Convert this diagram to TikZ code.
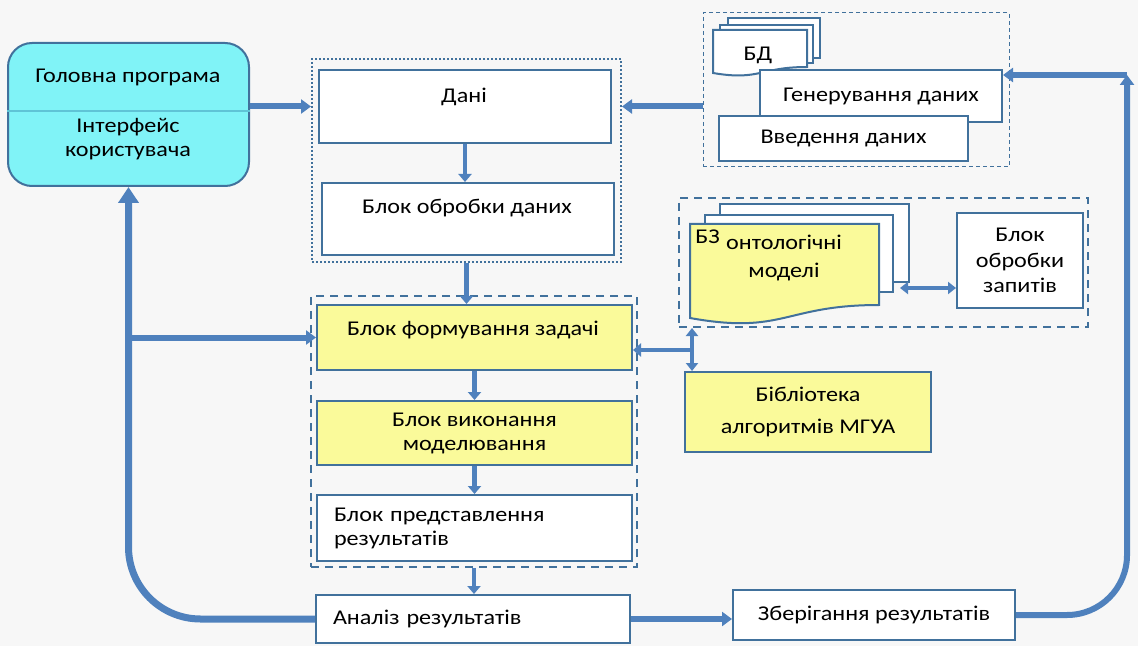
\documentclass[tikz,border=0pt]{standalone}
\usepackage{fontspec}
\setmainfont[FakeStretch=1.15]{Carlito}
\usetikzlibrary{arrows.meta}
\definecolor{edgeblue}{HTML}{41719C}
\definecolor{arrowblue}{HTML}{4F81BD}
\definecolor{aqua}{HTML}{80F3F7}
\definecolor{aquaedge}{HTML}{5FC4D6}
\definecolor{paleyellow}{HTML}{FAFA9A}
\definecolor{bggray}{HTML}{F7F7F7}

\begin{document}
\begin{tikzpicture}
[
x=0.5pt, y=-0.5pt,
every node/.style={font=\fontsize{10.5}{12}\selectfont, inner sep=0pt},
block/.style 2 args={draw=edgeblue, line width=1pt, fill=white, minimum width=#1*0.5pt, minimum height=#2*0.5pt, align=center},
yellowblock/.style 2 args={block={#1}{#2}, fill=paleyellow},
leftblock/.style 2 args={block={#1}{#2}, align=left},
frame/.style 2 args={draw=edgeblue, line width=1pt, minimum width=#1*0.5pt, minimum height=#2*0.5pt},
docsheet/.style={draw=edgeblue, line width=1pt, fill=white},
fatarrow/.style={draw=arrowblue, line width=3pt, -{Triangle[width=7pt,length=5pt]}},
looparrow/.style={draw=arrowblue, line width=3.5pt, -{Triangle[width=10pt,length=8pt]}},
thinarrow/.style={draw=arrowblue, line width=2.2pt, -{Triangle[width=6.5pt,length=4pt]}},
twoway/.style={draw=arrowblue, line width=2pt, {Triangle[width=6pt,length=4pt]}-{Triangle[width=6pt,length=4pt]}},
]
\fill[bggray] (0,0) rectangle (1138,646);
\useasboundingbox (0,0) rectangle (1138,646);

%Main program
\node[block={241}{143}, fill=aqua, rounded corners=12pt] (glav) at (128.5,114.5) {};
\draw[aquaedge, line width=0.6pt] (glav.west |- 0,111) -- (glav.east |- 0,111);
\node (glavT) at (128,77) {Головна програма};
\node[align=center] (userT) at (128,139) {Інтерфейс\\користувача};

%Data part
\node[frame={309}{203}, dash pattern=on 1pt off 1pt] (dotbox) at (466.5,160.5) {};
\node[block={292}{73}] (dani) at (465,106.5) {};
\node (daniT) at (464,97) {Дані};
\node[block={292}{72}] (obr) at (468,219) {};
\node (obrT) at (467,208) {Блок обробки даних};

%Modelling part
\node[frame={326}{271}, dash pattern=on 4pt off 3pt] (dash2) at (474,431.5) {};
\node[yellowblock={315}{65}] (form) at (474.5,337.5) {};
\node (formT) at (473,330) {Блок формування задачі};
\node[yellowblock={315}{64}] (vyk) at (474.5,433) {Блок виконання\\моделювання};
\node[leftblock={315}{66}, text width=140.5pt] (pred) at (474.5,528) {Блок представлення\\результатів};
\node[leftblock={314}{48}, text width=140pt] (anal) at (473,619) {Аналіз результатів};
\node[block={282}{50}] (zber) at (874,615) {Зберігання результатів};

%Data base part
\node[frame={306}{154}, line width=0.5pt, dash pattern=on 2pt off 1.5pt] (dbbox) at (856,90) {};
\draw[docsheet] (728,18) rectangle (820,58);
\draw[docsheet] (720,25) rectangle (813,63);
\draw[docsheet] (713,30) -- (807,30) -- (807,67) .. controls (760,67) and (760,81) .. (713,73) -- cycle;
\node (bdT) at (758,55) {БД};
\node[block={242}{52}] (gen) at (881,96) {Генерування даних};
\node[block={249}{45}] (vved) at (843.5,138.5) {Введення даних};

%Knowledge base part
\node[frame={409}{129}, dash pattern=on 4pt off 3pt] (kbox) at (883.5,262.5) {};
\draw[docsheet] (720,204) rectangle (909,282);
\draw[docsheet] (705,215) rectangle (893,292);
\draw[docsheet, fill=paleyellow] (690,224) -- (879,224) -- (879,305) .. controls (784,305) and (784,335) .. (690,318) -- cycle;
\node[anchor=west] (bzT) at (695,237) {БЗ};
\node[align=center] (ontT) at (784,258) {онтологічні\\[1.5pt]моделі};
\node[block={126}{95}] (zap) at (1020,260.5) {Блок\\[0.75pt]обробки\\[0.75pt]запитів};
\node[yellowblock={246}{80}] (lib) at (808,412) {Бібліотека\\[4pt]алгоритмів МГУА};

%Draw the connections
\draw[fatarrow] (glav.east |- dani) -- (dotbox.west |- dani);
\draw[fatarrow] (dbbox.west |- dani) -- (dotbox.east |- dani);
\draw[thinarrow] (dani.south) -- (dani.south |- obr.north);
\draw[thinarrow] (dotbox.south) -- (dotbox.south |- form.north);
\draw[thinarrow] (form) -- (vyk);
\draw[thinarrow] (vyk) -- (pred);
\draw[thinarrow] (dash2.south) -- (dash2.south |- anal.north);
\draw[fatarrow] (anal.east) -- (zber.west |- anal.east);
\draw[looparrow, rounded corners=36pt] (anal.west) -| (glav.south);
\coordinate (fork) at (glav.south |- form.west);
\draw[fatarrow] (fork) -- (form.west);
\coordinate (turn) at (1127,75);
\draw[fatarrow, rounded corners=30pt] (zber.east) -| (turn);
\draw[fatarrow] (turn) -- (gen.east |- turn);
\coordinate (bzR) at (900,288);
\draw[twoway] (bzR) -- (zap.west |- bzR);
\coordinate (fork2) at (692,350);
\draw[twoway] (kbox.south -| fork2) -- (lib.north -| fork2);
\draw[thinarrow] (fork2) -- (form.east |- fork2);
\end{tikzpicture}
\end{document}
